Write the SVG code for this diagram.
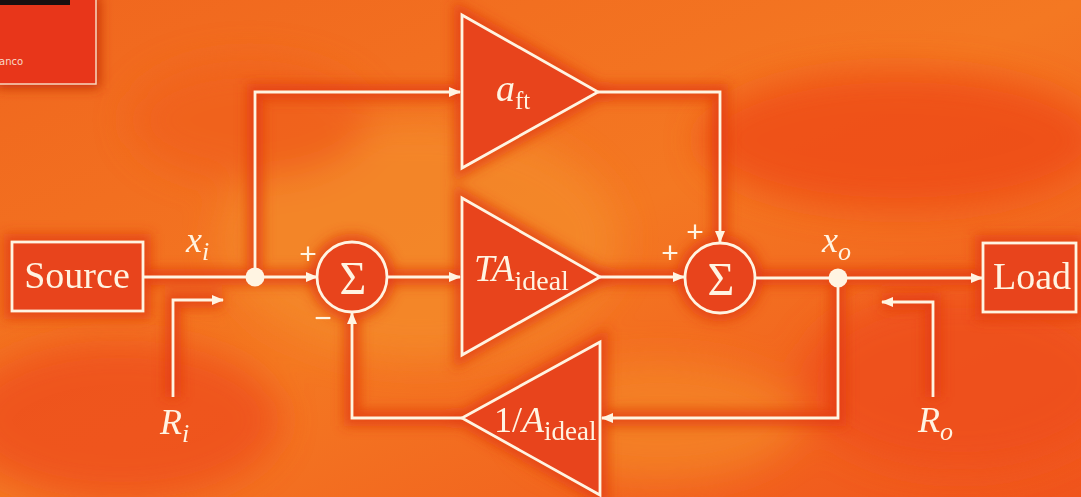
<svg xmlns="http://www.w3.org/2000/svg" width="1081" height="497" viewBox="0 0 1081 497">
<defs>
<style>
.ln{fill:none;stroke:#fff4e2;stroke-width:2.8}
.shape{fill:#e8441c;stroke:#fff4e2;stroke-width:2.8}
.glow{fill:none;stroke:#e23a14;stroke-width:16;opacity:0.75}
.t{font-family:"Liberation Serif","Times New Roman",serif;fill:#fff4e2}
.it{font-style:italic}
.sign{font-family:"Liberation Sans",Arial,sans-serif;fill:#fff4e2;font-size:30px;text-anchor:middle}
</style>
<marker id="ah" viewBox="0 0 12 10" refX="11" refY="5" markerWidth="12" markerHeight="10" markerUnits="userSpaceOnUse" orient="auto">
<path d="M0,0 L12,5 L0,10 Z" fill="#fff4e2"/>
</marker>
<filter id="blur" x="-20%" y="-20%" width="140%" height="140%"><feGaussianBlur stdDeviation="6"/></filter>
<filter id="bigblur" x="-50%" y="-50%" width="200%" height="200%"><feGaussianBlur stdDeviation="18"/></filter>
<linearGradient id="bg" x1="0" y1="0" x2="1" y2="1">
<stop offset="0" stop-color="#f0661e"/>
<stop offset="0.5" stop-color="#f47822"/>
<stop offset="1" stop-color="#f0541c"/>
</linearGradient>
</defs>

<g id="background">
<rect x="0" y="0" width="1081" height="497" fill="url(#bg)"/>
<g filter="url(#bigblur)" opacity="0.8">
<ellipse cx="420" cy="240" rx="200" ry="120" fill="#f48a2c"/>
<ellipse cx="120" cy="420" rx="160" ry="80" fill="#ee4e1a"/>
<ellipse cx="900" cy="140" rx="200" ry="70" fill="#ee4a18"/>
<ellipse cx="960" cy="380" rx="160" ry="90" fill="#ee4e1a"/>
<ellipse cx="250" cy="120" rx="120" ry="60" fill="#f0601c"/>
<ellipse cx="660" cy="420" rx="140" ry="60" fill="#f48428"/>
</g>
</g>

<g id="cover-thumbnail">
<rect x="-4" y="-4" width="104" height="92" fill="#c8300f" filter="url(#blur)"/>
<rect x="-2" y="-2" width="98" height="86" fill="#e8361a" stroke="#f8d8c0" stroke-width="1.5"/>
<rect x="-2" y="-2" width="72" height="7" fill="#1a1010"/>
<text x="-1" y="65" font-family="'DejaVu Sans',sans-serif" font-size="10" fill="#f8d8c8">anco</text>
</g>

<g id="halo" filter="url(#blur)">
<rect x="12" y="242" width="131" height="69" class="glow"/>
<rect x="983" y="243" width="93" height="69" class="glow"/>
<path d="M462,15 L598,92 L462,168 Z" class="glow"/>
<path d="M462,198 L600,277 L462,355 Z" class="glow"/>
<path d="M600,342 L462,418 L600,495 Z" class="glow"/>
<circle cx="352" cy="277" r="35" class="glow"/>
<circle cx="720" cy="278" r="35" class="glow"/>
<path d="M143,277 H983 M255,277 V92 H462 M598,92 H720 V243 M838,277 V418 H600 M462,418 H352 V312 M173,397 V300 H222 M933,397 V302 H882" class="glow" stroke-width="10"/>
</g>

<g id="connectors">
<path d="M143,277 H255" class="ln"/>
<path d="M255,277 H317" class="ln" marker-end="url(#ah)"/>
<path d="M255,277 V92 H460" class="ln" marker-end="url(#ah)"/>
<path d="M387,277 H460" class="ln" marker-end="url(#ah)"/>
<path d="M600,277 H684" class="ln" marker-end="url(#ah)"/>
<path d="M598,92 H720 V242" class="ln" marker-end="url(#ah)"/>
<path d="M755,278 H838" class="ln"/>
<path d="M838,278 H982" class="ln" marker-end="url(#ah)"/>
<path d="M838,278 V418 H602" class="ln" marker-end="url(#ah)"/>
<path d="M462,418 H352 V313" class="ln" marker-end="url(#ah)"/>
<path d="M173,397 V300 H223" class="ln" marker-end="url(#ah)"/>
<path d="M933,397 V302 H882" class="ln" marker-end="url(#ah)"/>
</g>

<g id="source">
<rect x="12" y="242" width="131" height="69" class="shape"/>
<text x="77" y="288" class="t" font-size="38" text-anchor="middle">Source</text>
</g>

<g id="load">
<rect x="983" y="243" width="93" height="69" class="shape"/>
<text x="1032" y="289" class="t" font-size="38" text-anchor="middle">Load</text>
</g>

<g id="junction-in">
<circle cx="255" cy="277" r="9.5" fill="#fff4e2"/>
</g>
<g id="junction-out">
<circle cx="838" cy="278" r="9.5" fill="#fff4e2"/>
</g>

<g id="sum1">
<circle cx="352" cy="277" r="35" class="shape"/>
<text x="353" y="294" class="t" font-size="46" text-anchor="middle">Σ</text>
<text x="308" y="264" class="sign">+</text>
<text x="323" y="328" class="sign">−</text>
</g>

<g id="sum2">
<circle cx="720" cy="278" r="35" class="shape"/>
<text x="721" y="295" class="t" font-size="46" text-anchor="middle">Σ</text>
<text x="670" y="263" class="sign">+</text>
<text x="695" y="242" class="sign">+</text>
</g>

<g id="aft">
<path d="M462,15 L598,92 L462,168 Z" class="shape"/>
<text x="496" y="101" class="t"><tspan class="it" font-size="38">a</tspan><tspan font-size="25" dy="8">ft</tspan></text>
</g>

<g id="TAideal">
<path d="M462,198 L600,277 L462,355 Z" class="shape"/>
<text x="474" y="281" class="t"><tspan class="it" font-size="37">TA</tspan><tspan font-size="28" dy="9">ideal</tspan></text>
</g>

<g id="invAideal">
<path d="M600,342 L462,418 L600,495 Z" class="shape"/>
<text x="494" y="432" class="t"><tspan font-size="36">1/</tspan><tspan class="it" font-size="36">A</tspan><tspan font-size="27" dy="8">ideal</tspan></text>
</g>

<g id="labels">
<text x="186" y="252" class="t"><tspan class="it" font-size="36">x</tspan><tspan class="it" font-size="26" dy="8">i</tspan></text>
<text x="822" y="252" class="t"><tspan class="it" font-size="36">x</tspan><tspan class="it" font-size="26" dy="8">o</tspan></text>
<text x="160" y="434" class="t"><tspan class="it" font-size="36">R</tspan><tspan class="it" font-size="26" dy="8">i</tspan></text>
<text x="918" y="432" class="t"><tspan class="it" font-size="36">R</tspan><tspan class="it" font-size="26" dy="8">o</tspan></text>
</g>
</svg>
